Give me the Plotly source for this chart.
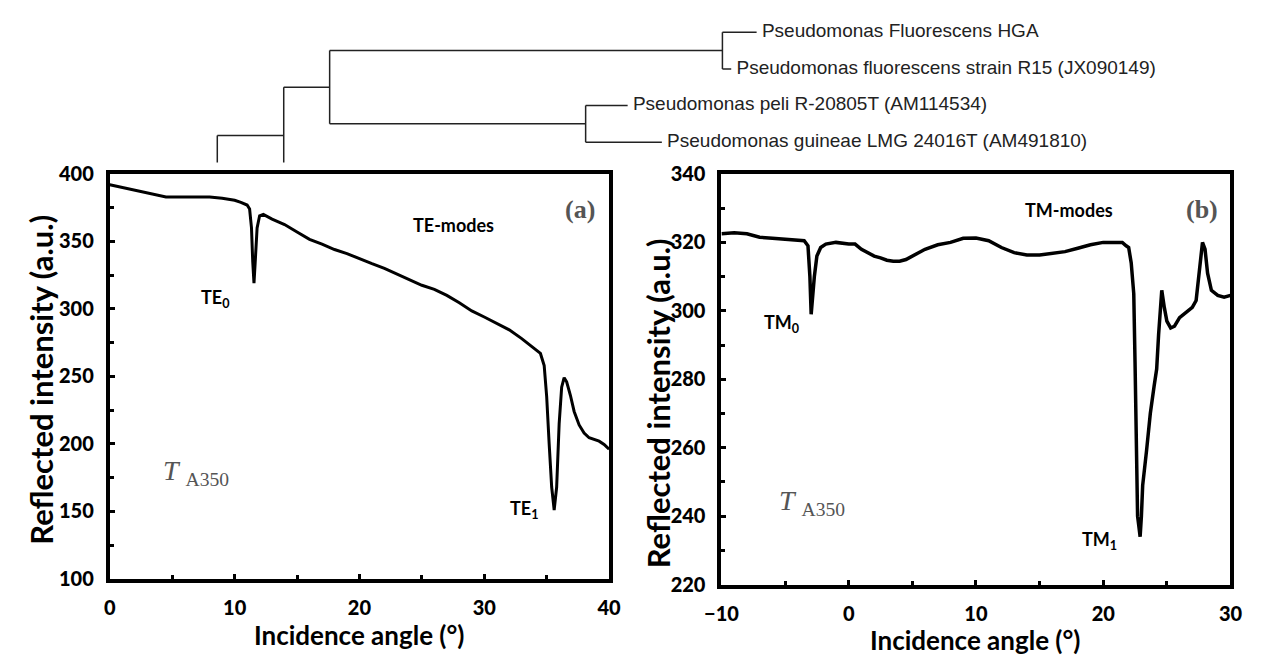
import plotly.graph_objects as go

# ---------------- data ----------------
te_angle = [0, 0.5, 1, 2, 3, 4, 4.5, 5, 6, 7, 8, 9, 10, 10.5, 11, 11.2, 11.35, 11.45, 11.55,
            11.65, 11.8, 12.0, 12.3, 13, 14, 15, 16, 17, 18, 19, 20, 21, 22, 23, 24, 25, 26,
            27, 28, 29, 30, 31, 32, 33, 34, 34.5, 34.8, 35.0, 35.2, 35.4, 35.6, 35.8, 36.0,
            36.2, 36.4, 36.6, 36.9, 37.2, 37.6, 38.0, 38.4, 38.8, 39.2, 39.6, 40]
te_intensity = [392, 391, 390, 388, 386.5, 384, 383, 383, 383, 383, 383, 382, 380.5, 379, 377,
                374, 360, 335, 319, 335, 360, 369, 370, 366.5, 362.5, 357, 351.5, 348, 344,
                341, 337, 333.5, 330, 326, 321.5, 317.5, 314.5, 310, 304.5, 298.5, 294, 289.5,
                284.5, 278, 270.5, 267, 258, 235, 200, 168, 151, 168, 215, 242, 249, 246, 236,
                224, 214, 208, 204.5, 203, 202, 199.5, 196]

tm_angle = [-10, -9, -8, -7, -6, -5, -4, -3.5, -3.2, -3.05, -2.95, -2.85, -2.7, -2.5, -2.2,
            -1.8, -1, 0, 0.5, 1, 1.5, 2, 2.5, 3, 3.5, 4, 4.5, 5, 5.5, 6, 7, 8, 9, 10, 11, 12,
            13, 14, 15, 16, 17, 18, 19, 20, 21, 21.5, 21.8, 22.0, 22.2, 22.4, 22.5, 22.6, 22.7,
            22.8, 22.9, 23.0, 23.1, 23.4, 23.7, 24.0, 24.2, 24.35, 24.6, 24.8, 25.0, 25.3,
            25.6, 26, 26.5, 27, 27.3, 27.6, 27.8, 28.0, 28.2, 28.5, 29, 29.5, 30]
tm_intensity = [322.5, 322.8, 322.5, 321.5, 321.2, 321, 320.8, 320.5, 319, 310, 299, 305, 310,
                316, 318.5, 319.5, 320, 319.5, 319.5, 318, 317, 316, 315.5, 314.8, 314.5,
                314.5, 315, 316, 317, 318, 319.3, 320, 321.2, 321.3, 320.5, 318.5, 317, 316.3,
                316.3, 316.7, 317.3, 318.3, 319.3, 320, 320, 320, 319, 318.5, 314, 305, 285,
                260, 240, 237, 234, 240, 249, 259, 270, 278, 283, 293, 306, 301, 297, 295,
                295.5, 298, 299.5, 301, 303, 313, 320, 318, 311, 306, 304.5, 304, 304.5]

te_ticks = [100, 150, 200, 250, 300, 350, 400]
tm_ticks = [220, 240, 260, 280, 300, 320, 340]
te_xticks = [0, 10, 20, 30, 40]
tm_xticks = [-10, 0, 10, 20, 30]

# phylogenetic tree fragment (distance from the lowest visible node, rows top-down)
taxa = ["Pseudomonas Fluorescens HGA",
        "Pseudomonas fluorescens strain R15 (JX090149)",
        "Pseudomonas peli R-20805T (AM114534)",
        "Pseudomonas guineae LMG 24016T (AM491810)"]
taxa_row = [0, 1, 2, 3]
taxa_depth = [0.552, 0.526, 0.420, 0.455]
node_A = 0.517   # HGA + R15
node_B = 0.377   # peli + guineae
node_C = 0.115   # A + B
node_D = 0.068   # C + (hidden)
node_E = 0.0     # D + (hidden)
hidden_D_row = 4.14
hidden_E_row = 5.5

# ---------------- tree segments ----------------
row_A = (taxa_row[0] + taxa_row[1]) / 2
row_B = (taxa_row[2] + taxa_row[3]) / 2
row_C = (row_A + row_B) / 2
row_D = (row_C + hidden_D_row) / 2
segs = [
    ((node_A, taxa_row[0]), (node_A, taxa_row[1])),
    ((node_A, taxa_row[0]), (taxa_depth[0], taxa_row[0])),
    ((node_A, taxa_row[1]), (taxa_depth[1], taxa_row[1])),
    ((node_B, taxa_row[2]), (node_B, taxa_row[3])),
    ((node_B, taxa_row[2]), (taxa_depth[2], taxa_row[2])),
    ((node_B, taxa_row[3]), (taxa_depth[3], taxa_row[3])),
    ((node_C, row_A), (node_C, row_B)),
    ((node_C, row_A), (node_A, row_A)),
    ((node_C, row_B), (node_B, row_B)),
    ((node_D, row_C), (node_D, hidden_D_row)),
    ((node_D, row_C), (node_C, row_C)),
    ((node_E, row_D), (node_E, hidden_E_row)),
    ((node_E, row_D), (node_D, row_D)),
]
tx, ty = [], []
for (x0, y0), (x1, y1) in segs:
    tx += [x0, x1, None]
    ty += [y0, y1, None]

W, H = 1263, 664
def px(v, total):
    return v / total

fig = go.Figure()

fig.add_trace(go.Scatter(x=te_angle, y=te_intensity, mode="lines",
                         line=dict(color="black", width=3), xaxis="x", yaxis="y",
                         showlegend=False))
fig.add_trace(go.Scatter(x=tm_angle, y=tm_intensity, mode="lines",
                         line=dict(color="black", width=3.5), xaxis="x2", yaxis="y2",
                         showlegend=False))
fig.add_trace(go.Scatter(x=tx, y=ty, mode="lines", line=dict(color="#222", width=1.5),
                         xaxis="x3", yaxis="y3", showlegend=False, hoverinfo="skip"))
fig.add_trace(go.Scatter(x=taxa_depth, y=taxa_row, mode="text", text=[" " + t for t in taxa],
                         textposition="middle right", cliponaxis=False,
                         textfont=dict(family="Liberation Sans", size=19, color="#222"),
                         xaxis="x3", yaxis="y3", showlegend=False, hoverinfo="skip"))

tickfont = dict(family="Lato", size=20, color="black", weight=900)
common = dict(showline=True, linewidth=4, linecolor="black", mirror=True, showgrid=False,
              zeroline=False, ticks="inside", ticklen=5, tickwidth=3, tickcolor="black",
              tickfont=tickfont, ticklabelstandoff=8)

fig.update_layout(
    width=W, height=H, margin=dict(l=0, r=0, t=0, b=0),
    paper_bgcolor="white", plot_bgcolor="white",
    xaxis=dict(domain=[px(95, W), px(606, W)], range=[0, 40], tickvals=te_xticks,
               minor=dict(ticks="inside", dtick=5, ticklen=4, tickwidth=3, tickcolor="black"),
               anchor="y", **common),
    yaxis=dict(domain=[1 - px(587, H), 1 - px(167, H)], range=[100, 400], tickvals=te_ticks,
               minor=dict(ticks="inside", dtick=25, ticklen=4, tickwidth=3, tickcolor="black"),
               anchor="x", **common),
    xaxis2=dict(domain=[px(721, W), px(1242, W)], range=[-10, 30], tickvals=tm_xticks,
                minor=dict(ticks="inside", dtick=5, ticklen=4, tickwidth=3, tickcolor="black"),
                anchor="y2", **common),
    yaxis2=dict(domain=[1 - px(593, H), 1 - px(167, H)], range=[220, 340], tickvals=tm_ticks,
                minor=dict(ticks="inside", dtick=10, ticklen=4, tickwidth=3, tickcolor="black"),
                anchor="x2", **common),
    xaxis3=dict(domain=[0, 1], range=[-0.205, 1.058], visible=False, anchor="y3"),
    yaxis3=dict(domain=[1 - px(155, H), 1], range=[3.553, -0.526], visible=False, anchor="x3"),
)

title_font = dict(family="Lato", size=26, color="black", weight="bold")
ytitle_font = dict(family="Lato", size=31, color="black", weight="bold")
label_font = dict(family="Lato", size=18, color="black", weight="bold")
panel_font = dict(family="Liberation Serif", size=26, color="#555555", weight="bold")
t_font = dict(family="Liberation Serif", size=28, color="#555555")

C = dict(showarrow=False, xanchor="center", yanchor="middle")
ann = [
    dict(text="Incidence angle (°)", x=px(350, W), y=1 - px(645, H), xref="paper",
         yref="paper", font=title_font, **C),
    dict(text="Incidence angle (°)", x=px(981, W), y=1 - px(650, H), xref="paper",
         yref="paper", font=title_font, **C),
    dict(text="Reflected intensity (a.u.)", x=px(25, W), y=1 - px(380, H), xref="paper",
         yref="paper", textangle=-90, font=ytitle_font, **C),
    dict(text="Reflected intensity (a.u.)", x=px(656, W), y=1 - px(405, H), xref="paper",
         yref="paper", textangle=-90, font=ytitle_font, **C),
    # panel (a)
    dict(text="(a)", x=37.7, y=374, xref="x", yref="y", font=panel_font, **C),
    dict(text="TE-modes", x=27.5, y=362, xref="x", yref="y", font=label_font, **C),
    dict(text="TE<sub>0</sub>", x=8.45, y=308, xref="x", yref="y", font=label_font, **C),
    dict(text="TE<sub>1</sub>", x=33.2, y=151.2, xref="x", yref="y", font=label_font, **C),
    dict(text="<i>T</i> <sub>A350</sub>", x=6.9, y=179, xref="x", yref="y", font=t_font, **C),
    # panel (b)
    dict(text="(b)", x=27.8, y=329.6, xref="x2", yref="y2", font=panel_font, **C),
    dict(text="TM-modes", x=17.3, y=329.6, xref="x2", yref="y2", font=label_font, **C),
    dict(text="TM<sub>0</sub>", x=-5.3, y=296.4, xref="x2", yref="y2", font=label_font, **C),
    dict(text="TM<sub>1</sub>", x=19.7, y=233, xref="x2", yref="y2", font=label_font, **C),
    dict(text="<i>T</i> <sub>A350</sub>", x=-2.9, y=244, xref="x2", yref="y2",
         font=t_font, **C),
]
fig.update_layout(annotations=ann)

fig.write_html("out.html", config={"displayModeBar": False},
               post_script="document.body.style.margin='0px';")
